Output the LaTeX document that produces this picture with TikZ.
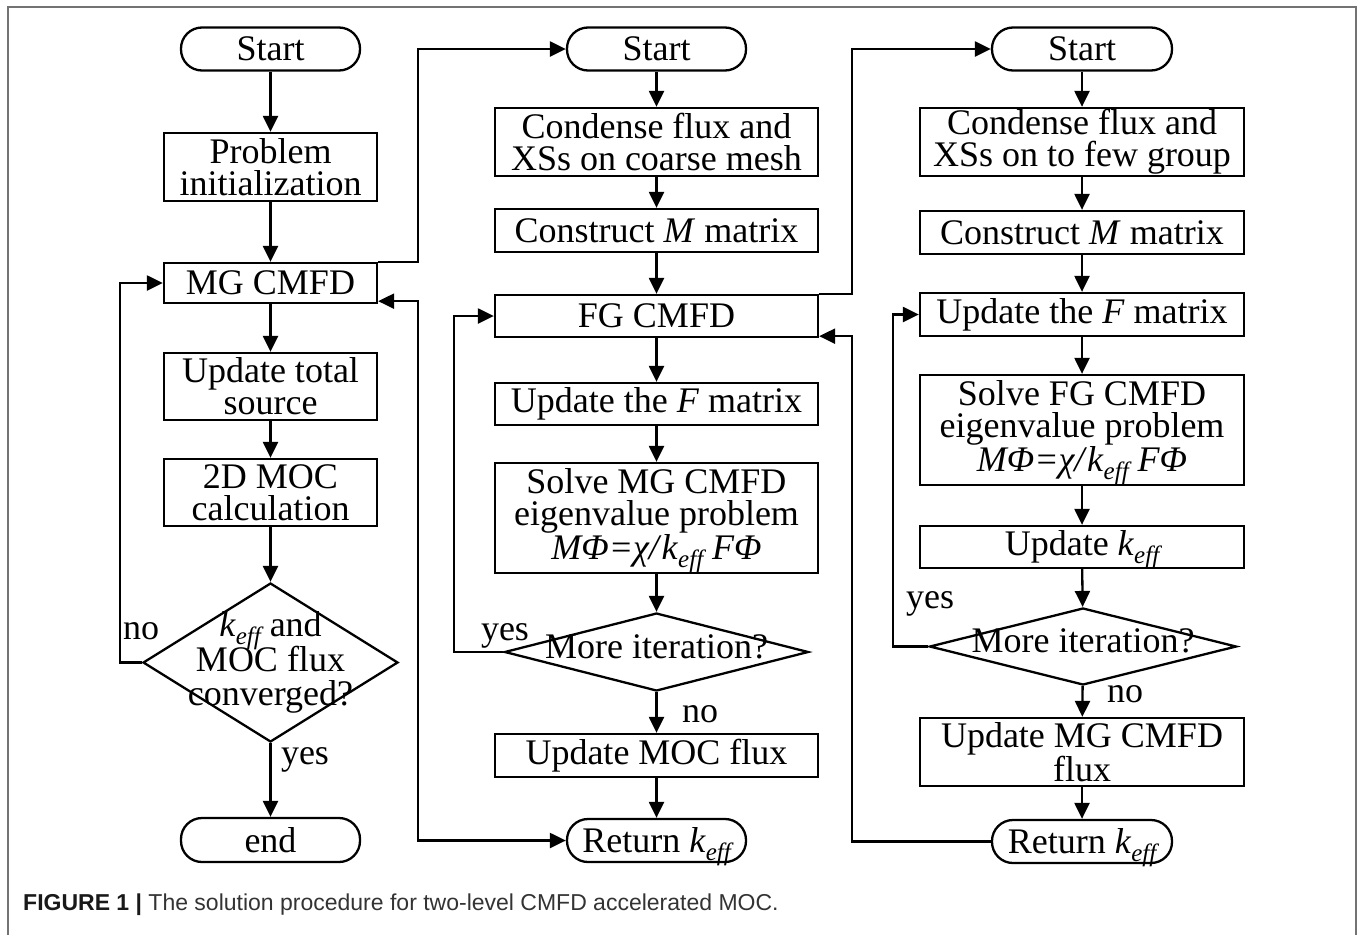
\documentclass[tikz,border=0pt]{standalone}
\usepackage{fontspec}
\setmainfont{Liberation Serif}
\newfontfamily\capfont{Liberation Sans}
\usetikzlibrary{arrows.meta,shapes.geometric}
\newcommand{\keffx}{\textit{k}\raisebox{-0.22em}[0pt][0pt]{\fontsize{25}{25}\selectfont\itshape eff}}
\newcommand{\dtext}[1]{\smash{\makebox[0pt]{\begin{tabular}{@{}c@{}}#1\end{tabular}}}}
\begin{document}
\begin{tikzpicture}[x=1pt,y=-1pt,
  every node/.style={font=\fontsize{36}{32}\selectfont},
  pbox/.style={draw, line width=2.3pt, inner sep=0pt, align=center, minimum height=#1},
  pbox/.default=42pt,
  termbox/.style={draw, line width=2.3pt, inner sep=0pt, rounded corners=21pt, minimum width=179pt, minimum height=43pt},
  decision/.style={draw, diamond, line width=2.3pt, inner sep=0pt},
  arr/.style={line width=2.3pt, -{Triangle[length=16pt,width=15pt]}},
  arrboth/.style={line width=2.3pt, {Triangle[length=16pt,width=15pt]}-{Triangle[length=16pt,width=15pt]}},
  lbl/.style={inner sep=0pt}]
\useasboundingbox (0,0) rectangle (1360,935);
% outer frame
\draw[black!55, line width=2pt] (8,935) -- (8,7) -- (1356,7) -- (1356,935);

% ---------- column 1 ----------
\node[termbox] (s1) at (270.5,49) {Start};
\node[pbox=68pt, minimum width=213pt] (init) at (270.5,167) {Problem\\initialization};
\node[pbox=40pt, minimum width=213pt] (mg) at (270.5,283) {MG CMFD};
\node[pbox=67pt, minimum width=213pt] (uts) at (270.5,386.5) {Update total\\source};
\node[pbox=67pt, minimum width=213pt] (moc) at (270.5,492.5) {2D MOC\\calculation};
\node[decision, minimum width=255pt, minimum height=159pt] (d1) at (270.5,662.5)
  {\raisebox{-14pt}{\dtext{\keffx{} and\\MOC flux\\converged?}}};
\node[termbox, minimum height=44pt] (e1) at (270.5,840) {end};

% ---------- column 2 ----------
\node[termbox] (s2) at (656.5,49) {Start};
\node[pbox=68pt, minimum width=323pt] (c2) at (656.5,142) {Condense flux and\\XSs on coarse mesh};
\node[pbox=43pt, minimum width=323pt] (m2) at (656.5,230.5) {Construct \textit{M} matrix};
\node[pbox=42pt, minimum width=323pt] (fg) at (656.5,316) {FG CMFD};
\node[pbox=42pt, minimum width=323pt] (f2) at (656.5,404) {Update the \textit{F} matrix};
\node[pbox=110pt, minimum width=323pt] (v2) at (656.5,518) {Solve MG CMFD\\eigenvalue problem\\\textit{MΦ=χ/}\keffx\textit{ FΦ}};
\node[decision, minimum width=304pt, minimum height=78pt] (d2) at (656.5,652)
  {\raisebox{-12pt}{\dtext{More iteration?}}};
\node[pbox=43pt, minimum width=323pt] (u2) at (656.5,755.5) {Update MOC flux};
\node[termbox] (r2) at (656.5,840.5) {Return \keffx};

% ---------- column 3 ----------
\node[termbox, minimum width=180pt] (s3) at (1082,49) {Start};
\node[pbox=68pt, minimum width=324pt] (c3) at (1082,142) {Condense flux and\\XSs on to few group};
\node[pbox=43pt, minimum width=324pt] (m3) at (1082,232.5) {Construct \textit{M} matrix};
\node[pbox=43pt, minimum width=324pt] (f3) at (1082,314.5) {Update the \textit{F} matrix};
\node[pbox=110pt, minimum width=324pt] (v3) at (1082,430) {Solve FG CMFD\\eigenvalue problem\\\textit{MΦ=χ/}\keffx\textit{ FΦ}};
\node[pbox=42pt, minimum width=324pt] (k3) at (1082,547) {Update \keffx};
\node[decision, minimum width=307pt, minimum height=77pt] (d3) at (1083,646.5)
  {\raisebox{-10pt}{\dtext{More iteration?}}};
\node[pbox=68pt, minimum width=324pt] (u3) at (1082,752) {Update MG CMFD\\flux};
\node[termbox, minimum width=180pt] (r3) at (1082,841.5) {Return \keffx};

% loop guide coordinates
\coordinate (l1) at (120,0);
\coordinate (l2) at (418,0);
\coordinate (l3) at (454,0);
\coordinate (l4) at (852,0);
\coordinate (l5) at (893,0);

% ---------- vertical flow ----------
\draw[arr] (s1) -- (init);
\draw[arr] (init) -- (mg);
\draw[arr] (mg) -- (uts);
\draw[arr] (uts) -- (moc);
\draw[arr] (moc) -- (d1);
\draw[arr] (d1) -- (e1);

\draw[arr] (s2) -- (c2);
\draw[arr] (c2) -- (m2);
\draw[arr] (m2) -- (fg);
\draw[arr] (fg) -- (f2);
\draw[arr] (f2) -- (v2);
\draw[arr] (v2) -- (d2);
\draw[arr] (d2) -- (u2);
\draw[arr] (u2) -- (r2);

\draw[arr] (s3) -- (c3);
\draw[arr] (c3) -- (m3);
\draw[arr] (m3) -- (f3);
\draw[arr] (f3) -- (v3);
\draw[arr] (v3) -- (k3);
\draw[arr] (k3) -- (d3);
\draw[arr] (d3) -- (u3);
\draw[arr] (u3) -- (r3);

% ---------- loops ----------
\draw[arr] (d1.west) -- (d1.west -| l1) |- (mg.west);
\draw[arr] (mg.north east) -- (mg.north east -| l2) |- (s2.west);
\draw[arrboth] (r2.west) -- (r2.west -| l2) |- ([yshift=3pt]mg.south east);
\draw[arr] (d2.west) -- (d2.west -| l3) |- (fg.west);
\draw[arr] (fg.north east) -- (fg.north east -| l4) |- (s3.west);
\draw[arr] (r3.west) -- (r3.west -| l4) |- ([yshift=2pt]fg.south east);
\draw[arr] (d3.west) -- (d3.west -| l5) |- (f3.west);

% ---------- labels ----------
\node[lbl] (no1) at (141,631) {no};
\node[lbl] (yes1) at (305,760) {yes};
\node[lbl] (yes2) at (505,636) {yes};
\node[lbl] (no2) at (700,714) {no};
\node[lbl] (yes3) at (930,604) {yes};
\node[lbl] (no3) at (1125,694) {no};

% ---------- caption ----------
\node[anchor=west, inner sep=0pt, font=\capfont\fontsize{23}{26}\selectfont, text=black!80] (cap) at (23,905)
  {\textbf{\color{black!90}FIGURE 1 |} The solution procedure for two-level CMFD accelerated MOC.};
\end{tikzpicture}
\end{document}
